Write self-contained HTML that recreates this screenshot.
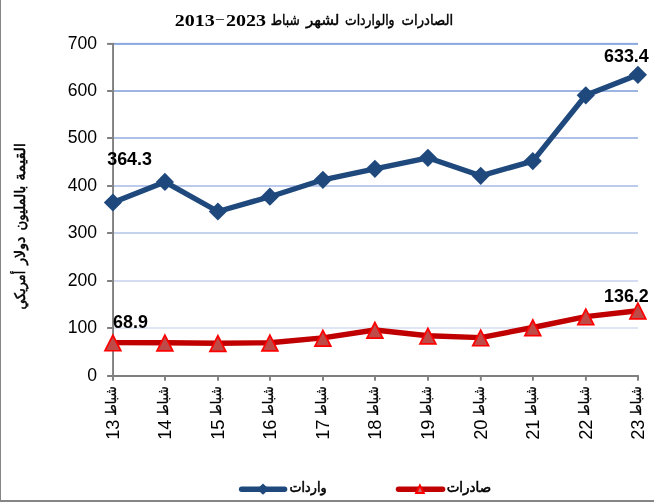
<!DOCTYPE html>
<html lang="ar">
<head>
<meta charset="utf-8">
<title>الصادرات والواردات لشهر شباط 2013–2023</title>
<style>
html,body{margin:0;padding:0;background:#fff;}
body{width:654px;height:502px;overflow:hidden;}
svg{display:block;will-change:transform;}
text{font-family:"Liberation Sans","DejaVu Sans",sans-serif;fill:#000;}
.ar{font-family:"Liberation Sans","DejaVu Sans",sans-serif;}
.num{font-size:17.6px;}
.dl{font-size:17.9px;font-weight:bold;}
.ttlnum{font-family:"Liberation Serif","DejaVu Serif",serif;font-weight:bold;font-size:17px;}
</style>
</head>
<body>
<svg width="654" height="502" viewBox="0 0 654 502">
<defs>
<g id="dia"><path d="M0,-9.1 L9.1,0 L0,9.1 L-9.1,0 Z" fill="#1F497D"/></g>
<g id="tri"><path d="M0,-9.4 L9.3,9 L-9.3,9 Z" fill="#FF0000"/><path d="M0,-5.6 L6.5,7.3 L-6.5,7.3 Z" fill="#BE4B48"/></g>
</defs>
<rect x="0" y="0" width="654" height="502" fill="#fff"/>

<rect x="113" y="42.90" width="525" height="2" fill="#8AA8E0"/>
<rect x="113" y="90.00" width="525" height="2" fill="#9DB5E3"/>
<rect x="113" y="137.00" width="525" height="2" fill="#ADC0E8"/>
<rect x="113" y="185.00" width="525" height="2" fill="#BCCBEB"/>
<rect x="113" y="232.00" width="525" height="2" fill="#C5D3EE"/>
<rect x="113" y="280.00" width="525" height="2" fill="#D3DCF0"/>
<rect x="113" y="327.00" width="525" height="2" fill="#E0E6F3"/>
<rect x="112.1" y="42.90" width="1.9" height="334.10" fill="#7F7F7F"/>
<rect x="107.1" y="375.00" width="531.80" height="2" fill="#7F7F7F"/>
<rect x="107.1" y="42.90" width="5.5" height="2" fill="#7F7F7F"/>
<rect x="107.1" y="90.00" width="5.5" height="2" fill="#7F7F7F"/>
<rect x="107.1" y="137.00" width="5.5" height="2" fill="#7F7F7F"/>
<rect x="107.1" y="185.00" width="5.5" height="2" fill="#7F7F7F"/>
<rect x="107.1" y="232.00" width="5.5" height="2" fill="#7F7F7F"/>
<rect x="107.1" y="280.00" width="5.5" height="2" fill="#7F7F7F"/>
<rect x="107.1" y="327.00" width="5.5" height="2" fill="#7F7F7F"/>
<rect x="112.05" y="376.00" width="1.9" height="4.70" fill="#7F7F7F"/>
<rect x="164.05" y="376.00" width="1.9" height="4.70" fill="#7F7F7F"/>
<rect x="217.05" y="376.00" width="1.9" height="4.70" fill="#7F7F7F"/>
<rect x="269.05" y="376.00" width="1.9" height="4.70" fill="#7F7F7F"/>
<rect x="322.05" y="376.00" width="1.9" height="4.70" fill="#7F7F7F"/>
<rect x="374.05" y="376.00" width="1.9" height="4.70" fill="#7F7F7F"/>
<rect x="427.05" y="376.00" width="1.9" height="4.70" fill="#7F7F7F"/>
<rect x="479.85" y="376.00" width="1.9" height="4.70" fill="#7F7F7F"/>
<rect x="531.95" y="376.00" width="1.9" height="4.70" fill="#7F7F7F"/>
<rect x="584.95" y="376.00" width="1.9" height="4.70" fill="#7F7F7F"/>
<rect x="637.05" y="376.00" width="1.9" height="4.70" fill="#7F7F7F"/>
<text class="num" x="97.0" y="48.7" text-anchor="end">700</text>
<text class="num" x="97.0" y="95.8" text-anchor="end">600</text>
<text class="num" x="97.0" y="142.8" text-anchor="end">500</text>
<text class="num" x="97.0" y="190.8" text-anchor="end">400</text>
<text class="num" x="97.0" y="237.8" text-anchor="end">300</text>
<text class="num" x="97.0" y="285.8" text-anchor="end">200</text>
<text class="num" x="97.0" y="332.8" text-anchor="end">100</text>
<text class="num" x="97.0" y="380.8" text-anchor="end">0</text>
<polyline points="112.9,202.5 164.9,181.9 217.9,211.5 269.9,196.7 322.9,179.8 374.9,168.8 427.9,157.8 480.7,175.8 532.8,161.1 585.8,95.3 637.9,74.8" fill="none" stroke="#1F497D" stroke-width="5.4" stroke-linejoin="round" stroke-linecap="round"/>
<use href="#dia" x="112.9" y="202.5"/>
<use href="#dia" x="164.9" y="181.9"/>
<use href="#dia" x="217.9" y="211.5"/>
<use href="#dia" x="269.9" y="196.7"/>
<use href="#dia" x="322.9" y="179.8"/>
<use href="#dia" x="374.9" y="168.8"/>
<use href="#dia" x="427.9" y="157.8"/>
<use href="#dia" x="480.7" y="175.8"/>
<use href="#dia" x="532.8" y="161.1"/>
<use href="#dia" x="585.8" y="95.3"/>
<use href="#dia" x="637.9" y="74.8"/>
<polyline points="112.9,342.6 164.9,342.7 217.9,343.2 269.9,342.7 322.9,337.9 374.9,330.0 427.9,335.8 480.7,337.6 532.8,327.5 585.8,316.6 637.9,310.7" fill="none" stroke="#C00000" stroke-width="5.4" stroke-linejoin="round" stroke-linecap="round"/>
<use href="#tri" x="112.9" y="342.6"/>
<use href="#tri" x="164.9" y="342.7"/>
<use href="#tri" x="217.9" y="343.2"/>
<use href="#tri" x="269.9" y="342.7"/>
<use href="#tri" x="322.9" y="337.9"/>
<use href="#tri" x="374.9" y="330.0"/>
<use href="#tri" x="427.9" y="335.8"/>
<use href="#tri" x="480.7" y="337.6"/>
<use href="#tri" x="532.8" y="327.5"/>
<use href="#tri" x="585.8" y="316.6"/>
<use href="#tri" x="637.9" y="310.7"/>
<text class="dl" x="107.2" y="165">364.3</text>
<text class="dl" x="604" y="62">633.4</text>
<text class="dl" x="113.1" y="327.7">68.9</text>
<text class="dl" x="604" y="301.7">136.2</text>
<g transform="translate(119.3,439.8) rotate(-90)"><text x="0" y="0" font-size="18.3"><tspan>13</tspan> <tspan class="ar" x="24.1" y="-3.1" font-size="14.7" stroke="#000" stroke-width="0.3" textLength="29.5" lengthAdjust="spacingAndGlyphs">شباط</tspan></text></g>
<g transform="translate(171.3,439.8) rotate(-90)"><text x="0" y="0" font-size="18.3"><tspan>14</tspan> <tspan class="ar" x="24.1" y="-3.1" font-size="14.7" stroke="#000" stroke-width="0.3" textLength="29.5" lengthAdjust="spacingAndGlyphs">شباط</tspan></text></g>
<g transform="translate(224.3,439.8) rotate(-90)"><text x="0" y="0" font-size="18.3"><tspan>15</tspan> <tspan class="ar" x="24.1" y="-3.1" font-size="14.7" stroke="#000" stroke-width="0.3" textLength="29.5" lengthAdjust="spacingAndGlyphs">شباط</tspan></text></g>
<g transform="translate(276.3,439.8) rotate(-90)"><text x="0" y="0" font-size="18.3"><tspan>16</tspan> <tspan class="ar" x="24.1" y="-3.1" font-size="14.7" stroke="#000" stroke-width="0.3" textLength="29.5" lengthAdjust="spacingAndGlyphs">شباط</tspan></text></g>
<g transform="translate(329.3,439.8) rotate(-90)"><text x="0" y="0" font-size="18.3"><tspan>17</tspan> <tspan class="ar" x="24.1" y="-3.1" font-size="14.7" stroke="#000" stroke-width="0.3" textLength="29.5" lengthAdjust="spacingAndGlyphs">شباط</tspan></text></g>
<g transform="translate(381.3,439.8) rotate(-90)"><text x="0" y="0" font-size="18.3"><tspan>18</tspan> <tspan class="ar" x="24.1" y="-3.1" font-size="14.7" stroke="#000" stroke-width="0.3" textLength="29.5" lengthAdjust="spacingAndGlyphs">شباط</tspan></text></g>
<g transform="translate(434.3,439.8) rotate(-90)"><text x="0" y="0" font-size="18.3"><tspan>19</tspan> <tspan class="ar" x="24.1" y="-3.1" font-size="14.7" stroke="#000" stroke-width="0.3" textLength="29.5" lengthAdjust="spacingAndGlyphs">شباط</tspan></text></g>
<g transform="translate(487.1,439.8) rotate(-90)"><text x="0" y="0" font-size="18.3"><tspan>20</tspan> <tspan class="ar" x="24.1" y="-3.1" font-size="14.7" stroke="#000" stroke-width="0.3" textLength="29.5" lengthAdjust="spacingAndGlyphs">شباط</tspan></text></g>
<g transform="translate(539.2,439.8) rotate(-90)"><text x="0" y="0" font-size="18.3"><tspan>21</tspan> <tspan class="ar" x="24.1" y="-3.1" font-size="14.7" stroke="#000" stroke-width="0.3" textLength="29.5" lengthAdjust="spacingAndGlyphs">شباط</tspan></text></g>
<g transform="translate(592.2,439.8) rotate(-90)"><text x="0" y="0" font-size="18.3"><tspan>22</tspan> <tspan class="ar" x="24.1" y="-3.1" font-size="14.7" stroke="#000" stroke-width="0.3" textLength="29.5" lengthAdjust="spacingAndGlyphs">شباط</tspan></text></g>
<g transform="translate(644.3,439.8) rotate(-90)"><text x="0" y="0" font-size="18.3"><tspan>23</tspan> <tspan class="ar" x="24.1" y="-3.1" font-size="14.7" stroke="#000" stroke-width="0.3" textLength="29.5" lengthAdjust="spacingAndGlyphs">شباط</tspan></text></g>
<g transform="translate(24.9,309.6) rotate(-90)"><text class="ar" y="0" font-size="14.6" stroke="#000" stroke-width="0.55"><tspan x="128.8" textLength="37.8" lengthAdjust="spacingAndGlyphs">القيمة</tspan> <tspan x="79" textLength="44.8" lengthAdjust="spacingAndGlyphs">بالمليون</tspan> <tspan x="44.8" textLength="28.1" lengthAdjust="spacingAndGlyphs">دولار</tspan> <tspan x="0" textLength="38.9" lengthAdjust="spacingAndGlyphs">أمريكي</tspan></text></g>
<text class="ttlnum" x="174.8" y="25.9" font-size="17.6" textLength="40" lengthAdjust="spacingAndGlyphs">2013</text>
<text class="ttlnum" transform="translate(216.1,22.1) scale(1,0.62)" x="0" y="0" font-size="17.6" textLength="7.8" lengthAdjust="spacingAndGlyphs">–</text>
<text class="ttlnum" x="225.9" y="25.9" font-size="17.6" textLength="40" lengthAdjust="spacingAndGlyphs">2023</text>
<text class="ar" y="25.1" font-size="14.8" stroke="#000" stroke-width="0.45"><tspan x="401.6" textLength="51.6" lengthAdjust="spacingAndGlyphs">الصادرات</tspan> <tspan x="345" textLength="49.6" lengthAdjust="spacingAndGlyphs">والواردات</tspan> <tspan x="305.9" textLength="33.6" lengthAdjust="spacingAndGlyphs">لشهر</tspan> <tspan x="270.7" textLength="29.1" lengthAdjust="spacingAndGlyphs">شباط</tspan></text>
<line x1="241.6" y1="489.3" x2="284.6" y2="489.3" stroke="#1F497D" stroke-width="5.4" stroke-linecap="round"/>
<path d="M263,483.6 L269,489.2 L263,494.8 L257,489.2 Z" fill="#1F497D"/>
<text class="ar" x="289.6" y="491.7" font-size="14" stroke="#000" stroke-width="0.55" textLength="37" lengthAdjust="spacingAndGlyphs">واردات</text>
<line x1="398.5" y1="489.3" x2="442.6" y2="489.3" stroke="#C00000" stroke-width="5.4" stroke-linecap="round"/>
<path d="M419.9,483.2 L425.3,494 L414.5,494 Z" fill="#FF0000"/><path d="M419.9,487.4 L422,492 L417.8,492 Z" fill="#C27474"/>
<text class="ar" x="446.7" y="491.7" font-size="14" stroke="#000" stroke-width="0.55" textLength="44.4" lengthAdjust="spacingAndGlyphs">صادرات</text>
<rect x="0" y="0" width="1" height="502" fill="#858585"/>
<rect x="0" y="500" width="654" height="2" fill="#858585"/>
</svg>
</body>
</html>
